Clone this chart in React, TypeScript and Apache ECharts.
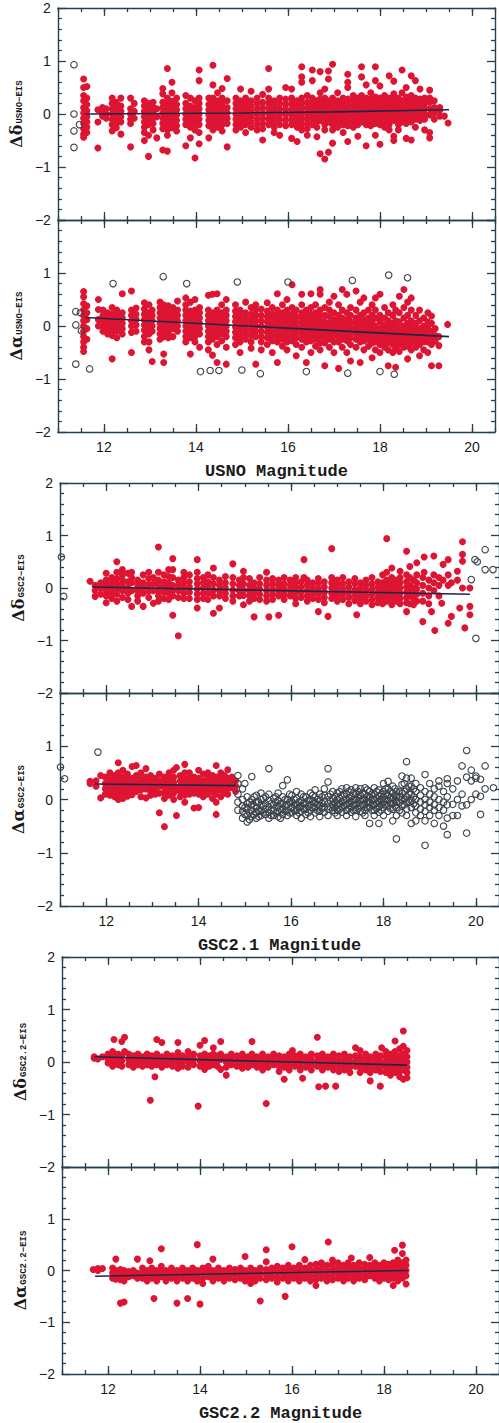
import React, { useEffect, useRef } from "react";
import * as echarts from "echarts";

// ---------- DATA (each column: [magnitude, residual1, residual2, ...]) ----------
const xMajorTicks = [12, 14, 16, 18, 20];

const usnoDecRed: number[][] = [
  [11.56, 0.66, 0.5, 0.35, 0.25, 0.12, 0.02, -0.08, -0.18, -0.28, -0.38, -0.44],
  [11.63, 0.52, 0.3, 0.18, 0.06, -0.05, -0.15, -0.25, -0.35],
  [11.87, 0.08, -0.15, -0.64],
  [11.97, 0.12, 0.04, -0.04],
  [12.05, 0.1, 0.0, -0.08],
  [12.18, 0.3, 0.2, 0.1, 0.0, -0.1, -0.2, -0.32],
  [12.27, 0.22, 0.12, 0.02, -0.08, -0.18, -0.26],
  [12.37, 0.3, 0.15, 0.05, -0.05, -0.15, -0.38],
  [12.58, 0.3, 0.1, 0.0, -0.1, -0.18, -0.62],
  [12.66, 0.2, 0.05, -0.08],
  [12.88, 0.25, 0.15, 0.05, -0.05, -0.15, -0.25, -0.35, -0.5],
  [12.97, 0.2, 0.1, 0.0, -0.1, -0.2, -0.4, -0.8],
  [13.07, 0.22, 0.12, 0.02, -0.08, -0.18, -0.3],
  [13.15, 0.1, -0.05, -0.45],
  [13.28, 0.48, 0.38, 0.22, 0.12, 0.02, -0.08, -0.18, -0.28, -0.68],
  [13.38, 0.86, 0.3, 0.2, 0.1, 0.0, -0.1, -0.2, -0.3, -0.4, -0.7],
  [13.48, 0.6, 0.4, 0.24, 0.14, 0.04, -0.06, -0.16, -0.26],
  [13.58, 0.3, 0.18, 0.08, -0.02, -0.12, -0.22, -0.32],
  [13.78, 0.35, 0.2, 0.1, 0.0, -0.1, -0.2, -0.6],
  [13.88, 0.3, 0.15, 0.05, -0.05, -0.15, -0.25, -0.45],
  [13.98, 0.25, 0.12, 0.02, -0.08, -0.18, -0.3, -0.83],
  [14.07, 0.83, 0.63, 0.3, 0.2, 0.1, 0.0, -0.1, -0.2, -0.35, -0.56],
  [14.28, 0.3, 0.18, 0.08, -0.02, -0.12, -0.22, -0.45],
  [14.37, 0.92, 0.55, 0.3, 0.2, 0.1, 0.0, -0.1, -0.2, -0.3],
  [14.47, 0.4, 0.25, 0.15, 0.05, -0.05, -0.15, -0.25],
  [14.57, 0.48, 0.3, 0.2, 0.1, 0.0, -0.1, -0.2, -0.32],
  [14.68, 0.67, 0.25, 0.12, 0.02, -0.08, -0.18, -0.62],
  [14.87, 0.3, 0.2, 0.1, 0.0, -0.1, -0.2, -0.3],
  [14.97, 0.47, 0.25, 0.15, 0.05, -0.05, -0.15, -0.25],
  [15.08, 0.3, 0.2, 0.1, 0.0, -0.1, -0.2, -0.35],
  [15.2, 0.43, 0.25, 0.15, 0.05, -0.05, -0.15, -0.25],
  [15.33, 0.3, 0.2, 0.1, 0.0, -0.1, -0.2, -0.3],
  [15.45, 0.37, 0.22, 0.12, 0.02, -0.08, -0.18, -0.28, -0.49],
  [15.58, 0.86, 0.47, 0.3, 0.2, 0.1, 0.0, -0.1, -0.2],
  [15.7, 0.25, 0.15, 0.05, -0.05, -0.15, -0.25, -0.35],
  [15.82, 0.3, 0.2, 0.1, 0.0, -0.1, -0.2, -0.4],
  [15.95, 0.5, 0.28, 0.18, 0.08, -0.02, -0.12, -0.22],
  [16.08, 0.47, 0.3, 0.2, 0.1, 0.0, -0.1, -0.2, -0.46],
  [16.2, 0.25, 0.15, 0.05, -0.05, -0.15, -0.25, -0.52],
  [16.3, 0.89, 0.7, 0.6, 0.3, 0.2, 0.1, 0.0, -0.1, -0.2, -0.3],
  [16.42, 0.35, 0.22, 0.12, 0.02, -0.08, -0.18, -0.28, -0.4],
  [16.53, 0.83, 0.63, 0.3, 0.2, 0.1, 0.0, -0.1, -0.2],
  [16.63, 0.25, 0.15, 0.05, -0.05, -0.15, -0.25, -0.43],
  [16.7, 0.8, 0.4, 0.28, 0.18, 0.08, -0.02, -0.12, -0.75],
  [16.8, 0.47, 0.3, 0.2, 0.1, 0.0, -0.1, -0.2, -0.3, -0.85],
  [16.88, 0.81, 0.66, 0.25, 0.15, 0.05, -0.05, -0.15, -0.72],
  [16.97, 0.94, 0.3, 0.2, 0.1, 0.0, -0.1, -0.2, -0.3, -0.55],
  [17.08, 0.4, 0.25, 0.15, 0.05, -0.05, -0.15, -0.25],
  [17.2, 0.3, 0.2, 0.1, 0.0, -0.1, -0.2, -0.35],
  [17.3, 0.75, 0.6, 0.5, 0.28, 0.18, 0.08, -0.02, -0.12, -0.22, -0.52],
  [17.42, 0.35, 0.25, 0.15, 0.05, -0.05, -0.15, -0.25],
  [17.52, 0.3, 0.2, 0.1, 0.0, -0.1, -0.2, -0.42],
  [17.6, 0.89, 0.7, 0.35, 0.25, 0.15, 0.05, -0.05, -0.15],
  [17.7, 0.55, 0.3, 0.2, 0.1, 0.0, -0.1, -0.2, -0.6],
  [17.8, 0.4, 0.28, 0.18, 0.08, -0.02, -0.12, -0.22],
  [17.9, 0.89, 0.63, 0.32, 0.22, 0.12, 0.02, -0.08, -0.18, -0.4],
  [18.0, 0.53, 0.3, 0.2, 0.1, 0.0, -0.1, -0.2, -0.57],
  [18.1, 0.35, 0.25, 0.15, 0.05, -0.05, -0.15, -0.25],
  [18.2, 0.72, 0.3, 0.2, 0.1, 0.0, -0.1, -0.2, -0.3],
  [18.3, 0.62, 0.38, 0.28, 0.18, 0.08, -0.02, -0.12, -0.42, -0.5],
  [18.4, 0.3, 0.2, 0.1, 0.0, -0.1, -0.2, -0.3],
  [18.48, 0.83, 0.4, 0.25, 0.15, 0.05, -0.05, -0.15],
  [18.57, 0.5, 0.32, 0.22, 0.12, 0.02, -0.08, -0.18, -0.46],
  [18.68, 0.72, 0.35, 0.25, 0.15, 0.05, -0.05, -0.15, -0.49],
  [18.77, 0.63, 0.3, 0.2, 0.1, 0.0, -0.1, -0.25],
  [18.87, 0.47, 0.28, 0.18, 0.08, -0.02, -0.12],
  [18.97, 0.3, 0.2, 0.1, 0.0, -0.1, -0.3],
  [19.08, 0.45, 0.3, 0.22, 0.1, -0.02, -0.35, -0.45],
  [19.18, 0.25, 0.12, 0.02, -0.1],
  [19.3, 0.12, 0.07, -0.04],
  [19.4, -0.04],
  [19.48, -0.17],
];
const usnoDecOpen: number[][] = [
  [11.35, 0.93, 0.0, -0.32, -0.63],
  [11.47, -0.2],
];
const usnoDecFit: number[][] = [[11.6, 0.0], [15.0, 0.02], [17.0, 0.04], [19.5, 0.08]];

const usnoRaRed: number[][] = [
  [11.56, 0.65, 0.55, 0.42, 0.3, 0.2, 0.1, 0.0, -0.1, -0.2, -0.3, -0.4, -0.48],
  [11.63, 0.38, 0.25, 0.12, -0.05, -0.25],
  [11.88, 0.5, 0.31, 0.12, 0.0],
  [11.98, 0.3, 0.2, 0.1, 0.0, -0.1],
  [12.08, 0.25, 0.15, 0.05, -0.05, -0.15],
  [12.18, 0.35, 0.22, 0.12, 0.02, -0.08, -0.18, -0.62],
  [12.28, 0.3, 0.2, 0.1, 0.0, -0.1, -0.22],
  [12.4, 0.61, 0.25, 0.15, 0.05, -0.05, -0.15],
  [12.6, 0.66, 0.3, 0.2, 0.1, 0.0, -0.12, -0.5],
  [12.7, 0.34, 0.22, 0.12, 0.02, -0.1],
  [12.88, 0.44, 0.32, 0.22, 0.12, 0.02, -0.08, -0.2, -0.3],
  [12.98, 0.4, 0.25, 0.15, 0.05, -0.05, -0.15, -0.3, -0.45],
  [13.05, 0.3, 0.2, 0.1, 0.0, -0.1, -0.67],
  [13.22, 0.45, 0.35, 0.25, 0.15, 0.05, -0.05, -0.15, -0.25],
  [13.3, 0.4, 0.3, 0.2, 0.1, 0.0, -0.1, -0.2, -0.53, -0.69],
  [13.4, 0.38, 0.28, 0.18, 0.08, -0.02, -0.12, -0.22],
  [13.5, 0.35, 0.25, 0.15, 0.05, -0.05, -0.2],
  [13.6, 0.47, 0.3, 0.2, 0.1, 0.0, -0.1],
  [13.78, 0.53, 0.4, 0.3, 0.2, 0.1, 0.0, -0.1, -0.2, -0.3],
  [13.88, 0.45, 0.28, 0.18, 0.08, -0.02, -0.12, -0.22, -0.53],
  [13.98, 0.5, 0.3, 0.2, 0.1, 0.0, -0.1, -0.2, -0.3],
  [14.08, 0.35, 0.25, 0.15, 0.05, -0.05, -0.15, -0.4],
  [14.27, 0.58, 0.3, 0.2, 0.1, 0.0, -0.1, -0.2, -0.3, -0.45],
  [14.36, 0.6, 0.25, 0.15, 0.05, -0.05, -0.15, -0.25, -0.55],
  [14.46, 0.61, 0.3, 0.2, 0.1, 0.0, -0.1, -0.2, -0.35, -0.69],
  [14.56, 0.4, 0.25, 0.15, 0.05, -0.05, -0.15, -0.28],
  [14.66, 0.5, 0.3, 0.2, 0.1, 0.0, -0.1, -0.2, -0.4, -0.72],
  [14.86, 0.4, 0.28, 0.18, 0.08, -0.02, -0.12, -0.22, -0.35],
  [14.96, 0.3, 0.2, 0.1, 0.0, -0.1, -0.2, -0.3, -0.5],
  [15.08, 0.45, 0.25, 0.15, 0.05, -0.05, -0.15, -0.25],
  [15.2, 0.35, 0.22, 0.12, 0.02, -0.08, -0.18, -0.3, -0.42],
  [15.3, 0.4, 0.3, 0.2, 0.1, 0.0, -0.1, -0.2, -0.72],
  [15.42, 0.32, 0.2, 0.1, 0.0, -0.1, -0.2, -0.3, -0.45],
  [15.55, 0.44, 0.28, 0.18, 0.08, -0.02, -0.12, -0.22, -0.35],
  [15.66, 0.35, 0.22, 0.12, 0.02, -0.08, -0.18, -0.28, -0.5],
  [15.77, 0.61, 0.3, 0.2, 0.1, 0.0, -0.1, -0.2, -0.3, -0.69],
  [15.88, 0.4, 0.25, 0.15, 0.05, -0.05, -0.15, -0.25, -0.38],
  [15.98, 0.5, 0.3, 0.2, 0.1, 0.0, -0.1, -0.2, -0.3, -0.45],
  [16.09, 0.78, 0.35, 0.22, 0.12, 0.02, -0.08, -0.18, -0.28],
  [16.18, 0.3, 0.18, 0.08, -0.02, -0.12, -0.22, -0.35, -0.56],
  [16.3, 0.6, 0.4, 0.25, 0.15, 0.05, -0.05, -0.15, -0.25, -0.4],
  [16.4, 0.3, 0.2, 0.1, 0.0, -0.1, -0.2, -0.3, -0.69],
  [16.5, 0.61, 0.35, 0.22, 0.12, 0.02, -0.08, -0.18, -0.28, -0.5],
  [16.6, 0.4, 0.25, 0.15, 0.05, -0.05, -0.15, -0.25, -0.38],
  [16.7, 0.69, 0.6, 0.3, 0.2, 0.1, 0.0, -0.1, -0.2, -0.32, -0.45],
  [16.8, 0.35, 0.2, 0.08, -0.02, -0.12, -0.22, -0.32, -0.75],
  [16.9, 0.45, 0.3, 0.18, 0.05, -0.05, -0.15, -0.25, -0.4],
  [17.0, 0.56, 0.25, 0.12, 0.02, -0.08, -0.18, -0.3, -0.5],
  [17.1, 0.4, 0.2, 0.1, 0.0, -0.1, -0.2, -0.3, -0.8],
  [17.18, 0.69, 0.3, 0.15, 0.05, -0.05, -0.15, -0.25, -0.4],
  [17.28, 0.6, 0.25, 0.12, 0.02, -0.08, -0.18, -0.28, -0.5],
  [17.36, 0.35, 0.2, 0.08, -0.02, -0.12, -0.22, -0.35, -0.66],
  [17.48, 0.66, 0.3, 0.15, 0.05, -0.05, -0.15, -0.25, -0.4],
  [17.57, 0.45, 0.2, 0.1, 0.0, -0.1, -0.2, -0.3, -0.69],
  [17.65, 0.53, 0.25, 0.12, 0.02, -0.08, -0.18, -0.28, -0.45],
  [17.75, 0.3, 0.15, 0.05, -0.05, -0.15, -0.25, -0.38],
  [17.83, 0.4, 0.2, 0.08, -0.02, -0.12, -0.22, -0.32, -0.6],
  [17.9, 0.53, 0.3, 0.15, 0.0, -0.1, -0.2, -0.3, -0.45],
  [18.0, 0.6, 0.2, 0.08, -0.05, -0.15, -0.25, -0.35, -0.5],
  [18.1, 0.35, 0.15, 0.02, -0.08, -0.18, -0.28, -0.4],
  [18.18, 0.25, 0.1, 0.0, -0.12, -0.22, -0.32, -0.45, -0.75],
  [18.28, 0.4, 0.2, 0.05, -0.05, -0.15, -0.25, -0.35, -0.5],
  [18.34, 0.3, 0.1, -0.02, -0.12, -0.22, -0.32, -0.42, -0.78],
  [18.42, 0.56, 0.25, 0.08, -0.05, -0.15, -0.25, -0.35, -0.48],
  [18.52, 0.69, 0.35, 0.15, 0.0, -0.1, -0.2, -0.3, -0.4],
  [18.6, 0.45, 0.2, 0.05, -0.05, -0.15, -0.25, -0.38, -0.62],
  [18.68, 0.53, 0.3, 0.1, -0.02, -0.12, -0.22, -0.32, -0.45],
  [18.78, 0.2, 0.05, -0.08, -0.18, -0.28, -0.4],
  [18.86, 0.3, 0.1, -0.05, -0.15, -0.25, -0.35, -0.56],
  [18.95, 0.15, 0.0, -0.1, -0.2, -0.3, -0.45],
  [19.04, 0.25, 0.08, -0.05, -0.18, -0.3, -0.5],
  [19.12, 0.19, 0.05, -0.1, -0.22, -0.35, -0.75],
  [19.2, -0.05, -0.18, -0.28],
  [19.28, -0.2, -0.37, -0.75],
  [19.47, 0.03],
];
const usnoRaOpen: number[][] = [
  [11.39, 0.27, 0.02, -0.72],
  [11.49, 0.25],
  [11.51, -0.09],
  [11.69, -0.81],
  [12.2, 0.8],
  [13.29, 0.93],
  [13.8, 0.8],
  [14.1, -0.86],
  [14.31, -0.84],
  [14.5, -0.84],
  [14.9, 0.83],
  [15.0, -0.83],
  [15.4, -0.9],
  [16.0, 0.83],
  [16.4, -0.86],
  [17.3, -0.89],
  [17.4, 0.86],
  [18.0, -0.86],
  [18.19, 0.96],
  [18.31, -0.91],
  [18.6, 0.91],
];
const usnoRaFit: number[][] = [[11.6, 0.16], [19.5, -0.2]];

const gsc21DecRed: number[][] = [
  [11.65, 0.13],
  [11.76, 0.05, -0.05, -0.16],
  [11.88, 0.1, 0.0, -0.12],
  [12.0, 0.28, 0.15, 0.05, -0.05, -0.15, -0.28],
  [12.12, 0.2, 0.1, 0.0, -0.1, -0.2],
  [12.23, 0.5, 0.3, 0.18, 0.08, -0.02, -0.12, -0.25],
  [12.35, 0.35, 0.25, 0.15, 0.05, -0.05, -0.18],
  [12.47, 0.28, 0.12, 0.0, -0.1, -0.22],
  [12.55, 0.3, 0.2, 0.1, -0.05, -0.35],
  [12.68, 0.15, 0.05, -0.05, -0.15, -0.25],
  [12.8, 0.25, 0.1, 0.0, -0.1, -0.35],
  [12.92, 0.3, 0.18, 0.06, -0.06, -0.18],
  [13.02, 0.2, 0.08, -0.05, -0.29],
  [13.13, 0.78, 0.3, 0.15, 0.05, -0.05, -0.15, -0.25],
  [13.25, 0.25, 0.12, 0.02, -0.08, -0.2],
  [13.35, 0.35, 0.22, 0.1, 0.0, -0.1, -0.22],
  [13.44, 0.56, 0.35, 0.2, 0.05, -0.05, -0.15, -0.52],
  [13.56, 0.15, 0.05, -0.05, -0.18, -0.91],
  [13.68, 0.3, 0.2, 0.1, 0.0, -0.1, -0.2],
  [13.8, 0.25, 0.12, 0.02, -0.08, -0.2],
  [13.97, 0.54, 0.3, 0.18, 0.08, -0.02, -0.12, -0.22, -0.38],
  [14.1, 0.2, 0.1, 0.0, -0.1, -0.2],
  [14.2, 0.25, 0.12, 0.02, -0.1, -0.22],
  [14.32, 0.38, 0.2, 0.08, -0.04, -0.15, -0.48],
  [14.45, 0.15, 0.05, -0.05, -0.15, -0.38],
  [14.58, 0.22, 0.1, 0.0, -0.1, -0.2],
  [14.74, 0.46, 0.2, 0.08, -0.04, -0.15, -0.25],
  [14.88, 0.15, 0.05, -0.05, -0.15],
  [14.97, 0.32, 0.2, 0.08, -0.04, -0.14, -0.32],
  [15.1, 0.18, 0.05, -0.05, -0.15, -0.25],
  [15.2, 0.1, 0.0, -0.1, -0.2, -0.55],
  [15.32, 0.2, 0.08, -0.02, -0.12, -0.22],
  [15.47, 0.3, 0.15, 0.05, -0.05, -0.15, -0.25],
  [15.52, -0.55],
  [15.6, 0.18, 0.08, -0.02, -0.12, -0.22],
  [15.73, 0.15, 0.05, -0.05, -0.15, -0.52],
  [15.85, 0.2, 0.08, -0.02, -0.12, -0.22],
  [15.98, 0.15, 0.05, -0.05, -0.15],
  [16.1, 0.2, 0.1, 0.0, -0.1, -0.2, -0.3],
  [16.22, 0.12, 0.02, -0.08, -0.18],
  [16.28, 0.54, 0.2],
  [16.35, 0.15, 0.05, -0.05, -0.15, -0.25],
  [16.47, 0.1, 0.0, -0.1, -0.2],
  [16.59, 0.18, 0.08, -0.02, -0.12, -0.22, -0.45],
  [16.72, 0.12, 0.02, -0.08, -0.18, -0.28],
  [16.8, -0.54],
  [16.88, 0.75, 0.2, 0.1, 0.0, -0.1, -0.2],
  [17.0, 0.15, 0.05, -0.05, -0.15, -0.25],
  [17.12, 0.2, 0.08, -0.02, -0.12, -0.22],
  [17.25, 0.12, 0.02, -0.08, -0.18, -0.3],
  [17.38, 0.18, 0.08, -0.04, -0.14, -0.24],
  [17.42, -0.51],
  [17.5, 0.1, 0.0, -0.1, -0.2, -0.3],
  [17.62, 0.15, 0.05, -0.05, -0.15, -0.25],
  [17.75, 0.2, 0.08, -0.02, -0.12, -0.22, -0.32],
  [17.88, 0.12, 0.02, -0.08, -0.18, -0.28],
  [17.98, 0.25, 0.1, 0.0, -0.1, -0.2, -0.3],
  [18.07, 0.94, 0.3, 0.15, 0.05, -0.05, -0.15, -0.25],
  [18.18, 0.38, 0.2, 0.08, -0.02, -0.12, -0.22, -0.32],
  [18.28, 0.15, 0.05, -0.05, -0.15, -0.25],
  [18.36, 0.32, 0.2, 0.1, 0.0, -0.1, -0.2, -0.3],
  [18.5, 0.7, 0.25, 0.12, 0.02, -0.08, -0.18, -0.28, -0.45],
  [18.57, 0.41, 0.2, 0.05, -0.05, -0.15, -0.3],
  [18.65, 0.15, 0.0, -0.1, -0.2, -0.32],
  [18.72, 0.48, 0.25, 0.1, -0.02, -0.12, -0.25],
  [18.85, 0.2, 0.05, -0.1, -0.25, -0.64],
  [18.88, 0.59, 0.3],
  [18.98, 0.15, 0.0, -0.15, -0.3],
  [19.04, -0.45],
  [19.09, 0.61, 0.25, 0.1, -0.05],
  [19.11, -0.81],
  [19.2, 0.2, 0.05, -0.15],
  [19.26, -0.29],
  [19.29, 0.45, 0.15],
  [19.4, 0.54, 0.25, 0.05, -0.67],
  [19.47, -0.54, 0.1],
  [19.6, 0.32, 0.15],
  [19.65, -0.38],
  [19.71, 0.88, 0.64, 0.51, 0.0],
  [19.76, -0.76],
  [19.87, 0.0, -0.35, -0.51],
];
const gsc21DecOpen: number[][] = [
  [11.03, 0.59],
  [11.08, -0.16],
  [19.9, 0.16],
  [19.98, 0.54],
  [20.0, -0.96],
  [20.03, 0.5],
  [20.2, 0.73, 0.35],
  [20.37, 0.35],
];
const gsc21DecFit: number[][] = [[11.7, 0.02], [19.87, -0.12]];

const gsc21RaRed: number[][] = [
  [11.65, 0.34, 0.3],
  [11.78, 0.35, 0.25],
  [11.88, 0.45, 0.03],
  [11.98, 0.42, 0.3, 0.2, 0.1],
  [12.08, 0.5, 0.38, 0.28, 0.18, 0.08],
  [12.18, 0.45, 0.35, 0.25, 0.15, 0.05],
  [12.26, 0.69, 0.5, 0.4, 0.3, 0.2, 0.1, 0.0],
  [12.36, 0.55, 0.42, 0.32, 0.22, 0.12, 0.02],
  [12.46, 0.48, 0.36, 0.26, 0.16, 0.06],
  [12.56, 0.62, 0.4, 0.3, 0.2, 0.09],
  [12.65, 0.64, 0.45, 0.35, 0.25, 0.15],
  [12.75, 0.5, 0.38, 0.28, 0.18, 0.05],
  [12.86, 0.58, 0.42, 0.32, 0.2, 0.03],
  [12.96, 0.45, 0.35, 0.25, 0.15, 0.08],
  [13.06, 0.4, 0.3, 0.2, 0.1],
  [13.15, 0.48, 0.35, 0.25, 0.12, -0.25],
  [13.26, 0.42, 0.32, 0.22, 0.12, 0.02, -0.51],
  [13.36, 0.5, 0.38, 0.28, 0.18, 0.08],
  [13.46, 0.55, 0.42, 0.32, 0.22, 0.12, 0.0],
  [13.52, 0.6, 0.2, -0.3],
  [13.6, 0.45, 0.35, 0.25, 0.15, 0.05],
  [13.7, 0.66, 0.5, 0.38, 0.28, 0.18, 0.08, -0.05],
  [13.8, 0.5, 0.4, 0.3, 0.2, 0.1],
  [13.9, 0.42, 0.32, 0.22, 0.12, -0.16],
  [14.0, 0.55, 0.4, 0.3, 0.2, 0.1, -0.15],
  [14.1, 0.48, 0.35, 0.25, 0.15, 0.05],
  [14.2, 0.5, 0.4, 0.3, 0.2, 0.1],
  [14.3, 0.45, 0.35, 0.25, 0.15, 0.02],
  [14.38, 0.64, 0.42, 0.3, 0.2, 0.1, -0.05, -0.28],
  [14.48, 0.5, 0.38, 0.28, 0.18, 0.05],
  [14.56, 0.45, 0.35, 0.25, 0.12],
  [14.63, 0.56, 0.4, 0.3, 0.2, 0.1],
  [14.72, 0.42, 0.32, 0.22],
  [14.8, 0.35, 0.25, 0.15],
];
const gsc21RaOpen: number[][] = [
  [11.01, 0.61],
  [11.1, 0.39],
  [11.82, 0.89],
  [14.85, 0.45, 0.3, 0.1, -0.05, -0.2],
  [14.95, 0.2, 0.0, -0.12, -0.22, -0.35],
  [15.0, 0.3, -0.15, -0.28],
  [15.05, 0.05, -0.08, -0.18, -0.3, -0.42],
  [15.1, -0.05, -0.25, -0.38],
  [15.15, 0.43, 0.0, -0.1, -0.2, -0.32],
  [15.2, 0.05, -0.12, -0.28],
  [15.25, 0.08, -0.05, -0.15, -0.25, -0.35],
  [15.3, -0.05, -0.22, -0.32],
  [15.35, 0.12, 0.0, -0.1, -0.2, -0.3],
  [15.4, 0.02, -0.12, -0.25],
  [15.45, 0.05, -0.08, -0.18, -0.28],
  [15.52, 0.58, 0.1, -0.02, -0.14, -0.24, -0.35],
  [15.57, -0.08, -0.2, -0.3],
  [15.62, 0.02, -0.1, -0.2, -0.3],
  [15.67, 0.05, -0.05, -0.25],
  [15.72, 0.12, -0.02, -0.12, -0.22, -0.32],
  [15.77, -0.08, -0.18, -0.35],
  [15.82, 0.26, 0.05, -0.08, -0.18, -0.28],
  [15.87, 0.0, -0.12, -0.22],
  [15.92, 0.37, 0.0, -0.1, -0.2, -0.3],
  [15.97, 0.1, -0.05, -0.25],
  [16.02, 0.08, -0.05, -0.15, -0.25],
  [16.07, 0.0, -0.1, -0.2],
  [16.12, 0.15, 0.02, -0.1, -0.2, -0.3],
  [16.17, -0.05, -0.15, -0.25],
  [16.22, 0.1, -0.02, -0.12, -0.22, -0.35],
  [16.27, 0.05, -0.07, -0.17],
  [16.32, 0.05, -0.08, -0.18, -0.28],
  [16.37, -0.02, -0.13, -0.25],
  [16.42, 0.12, 0.0, -0.1, -0.2, -0.32],
  [16.47, 0.08, -0.03, -0.15],
  [16.52, 0.18, 0.05, -0.05, -0.15, -0.25],
  [16.57, 0.0, -0.1, -0.2],
  [16.62, 0.1, -0.02, -0.12, -0.22, -0.32],
  [16.67, 0.05, -0.07, -0.17],
  [16.72, 0.2, 0.08, -0.04, -0.14, -0.24],
  [16.8, 0.58, 0.33, 0.05, -0.08, -0.18, -0.3],
  [16.85, 0.1, -0.02, -0.14],
  [16.9, 0.15, 0.02, -0.1, -0.2],
  [16.95, 0.05, -0.05, -0.15, -0.25],
  [17.0, 0.12, 0.0, -0.1, -0.2, -0.3],
  [17.05, 0.15, 0.02, -0.08, -0.18],
  [17.1, 0.2, 0.08, -0.04, -0.14, -0.24],
  [17.15, 0.1, -0.02, -0.12],
  [17.2, 0.22, 0.1, 0.0, -0.1, -0.2, -0.3],
  [17.25, 0.15, 0.03, -0.07, -0.17],
  [17.3, 0.18, 0.06, -0.04, -0.14, -0.24],
  [17.35, 0.12, 0.0, -0.1, -0.2],
  [17.4, 0.22, 0.1, 0.0, -0.1, -0.2, -0.32],
  [17.45, 0.15, 0.03, -0.07, -0.17],
  [17.5, 0.2, 0.08, -0.02, -0.12, -0.22],
  [17.55, 0.12, 0.0, -0.1, -0.25],
  [17.6, 0.22, 0.1, 0.0, -0.1, -0.2, -0.3],
  [17.65, 0.18, 0.05, -0.05, -0.15],
  [17.7, 0.15, 0.05, -0.05, -0.15, -0.45],
  [17.75, 0.1, 0.0, -0.1, -0.2],
  [17.8, 0.22, 0.1, 0.0, -0.1, -0.2, -0.3],
  [17.85, 0.15, 0.03, -0.07, -0.17],
  [17.9, 0.18, 0.06, -0.04, -0.14, -0.24, -0.45],
  [17.95, 0.1, 0.0, -0.1, -0.2],
  [18.0, 0.3, 0.15, 0.05, -0.05, -0.15, -0.3],
  [18.05, 0.2, 0.1, 0.0, -0.1],
  [18.1, 0.34, 0.2, 0.08, -0.02, -0.12, -0.22],
  [18.15, 0.15, 0.03, -0.07, -0.17],
  [18.2, 0.25, 0.12, 0.02, -0.08, -0.18, -0.4],
  [18.25, 0.2, 0.08, -0.02, -0.12],
  [18.28, 0.15, 0.05, -0.05, -0.15, -0.3, -0.74],
  [18.35, 0.15, 0.05, -0.05, -0.2],
  [18.4, 0.44, 0.28, 0.12, 0.0, -0.12, -0.25],
  [18.45, 0.3, 0.15, 0.0, -0.1],
  [18.5, 0.71, 0.4, 0.2, 0.05, -0.05, -0.18, -0.3],
  [18.55, 0.25, 0.1, -0.05],
  [18.6, 0.4, 0.25, 0.1, -0.02, -0.15, -0.45],
  [18.65, 0.2, 0.05, -0.08],
  [18.7, 0.3, 0.15, 0.0, -0.12, -0.25, -0.4],
  [18.8, 0.22, 0.08, -0.05, -0.18, -0.3],
  [18.9, 0.47, 0.15, 0.0, -0.1, -0.22, -0.4, -0.86],
  [19.0, 0.3, 0.1, -0.05, -0.15, -0.3],
  [19.1, 0.2, 0.05, -0.1, -0.2, -0.45],
  [19.2, 0.35, 0.25, 0.0, -0.15, -0.3],
  [19.3, 0.15, -0.05, -0.2, -0.5],
  [19.38, 0.39, 0.3, 0.05, -0.1, -0.35, -0.66],
  [19.5, 0.2, -0.09, -0.3],
  [19.6, 0.35, 0.0, -0.3],
  [19.7, 0.63, 0.1, -0.12],
  [19.8, 0.92, 0.42, -0.1, -0.63],
  [19.9, 0.55, 0.35, 0.0],
  [20.0, 0.44, 0.4, 0.1],
  [20.1, 0.38, 0.06, -0.28],
  [20.2, 0.63, 0.2],
  [20.38, 0.22],
];
const gsc21RaFit: number[][] = [[11.75, 0.29], [14.8, 0.26]];

const gsc22DecRed: number[][] = [
  [11.7, 0.1, 0.07],
  [11.78, 0.06],
  [11.88, 0.1],
  [12.0, 0.15, 0.05, -0.02],
  [12.1, 0.2, 0.1, 0.0, -0.08],
  [12.13, 0.43],
  [12.22, 0.15, 0.05, -0.05],
  [12.3, 0.39, 0.12, 0.02, -0.08],
  [12.36, 0.47, 0.2],
  [12.45, 0.15, 0.05, -0.05],
  [12.55, 0.12, 0.02, -0.1],
  [12.65, 0.15, 0.05, -0.05],
  [12.75, 0.1, 0.0, -0.08],
  [12.85, 0.15, 0.05, -0.05],
  [12.92, -0.73],
  [12.95, 0.12, 0.02, -0.08],
  [13.02, -0.28],
  [13.06, 0.43, 0.15, 0.05, -0.05],
  [13.17, 0.37, 0.1, 0.0, -0.1],
  [13.28, 0.15, 0.05, -0.05],
  [13.4, 0.12, 0.02, -0.08],
  [13.52, 0.37, 0.18, 0.08, -0.02, -0.12],
  [13.62, 0.12, 0.02, -0.08],
  [13.74, 0.2, 0.1, 0.0, -0.1],
  [13.86, 0.15, 0.05, -0.05],
  [13.96, -0.84],
  [14.0, 0.32, 0.12, 0.02, -0.08],
  [14.1, 0.41, 0.15, 0.05, -0.05, -0.14],
  [14.2, 0.12, 0.02, -0.08],
  [14.29, 0.27, 0.15, 0.05, -0.05],
  [14.38, 0.12, 0.02, -0.08],
  [14.45, 0.39, 0.15, 0.05, -0.14],
  [14.57, 0.1, 0.0, -0.1, -0.25],
  [14.68, 0.15, 0.05, -0.05],
  [14.8, 0.12, 0.02, -0.08],
  [14.92, 0.15, 0.05, -0.05, -0.12],
  [15.04, 0.1, 0.0, -0.1],
  [15.13, 0.39, 0.15, 0.05, -0.05],
  [15.24, 0.1, 0.0, -0.1],
  [15.36, 0.15, 0.05, -0.05, -0.15],
  [15.44, -0.79],
  [15.48, 0.1, 0.0, -0.1],
  [15.6, 0.15, 0.05, -0.05],
  [15.72, 0.12, 0.02, -0.08, -0.18],
  [15.83, 0.1, 0.0, -0.1, -0.33],
  [15.94, 0.15, 0.05, -0.05, -0.15],
  [16.01, 0.22],
  [16.06, 0.12, 0.02, -0.08],
  [16.18, 0.15, 0.05, -0.05, -0.15],
  [16.23, -0.31],
  [16.3, 0.1, 0.0, -0.1],
  [16.42, 0.15, 0.05, -0.05, -0.15],
  [16.55, 0.47, 0.12, 0.02, -0.08],
  [16.58, -0.47],
  [16.66, 0.15, 0.05, -0.05, -0.15],
  [16.73, -0.46],
  [16.78, 0.1, 0.0, -0.1],
  [16.9, 0.15, 0.05, -0.05, -0.15],
  [16.95, -0.46],
  [17.02, 0.12, 0.02, -0.08, -0.18],
  [17.14, 0.15, 0.05, -0.05, -0.15],
  [17.26, 0.1, 0.0, -0.1, -0.2],
  [17.38, 0.27, 0.12, 0.02, -0.08],
  [17.48, 0.22, 0.1, 0.0, -0.1, -0.2],
  [17.6, 0.15, 0.05, -0.05, -0.15],
  [17.7, 0.1, 0.0, -0.1, -0.2, -0.36],
  [17.82, 0.15, 0.05, -0.05, -0.15],
  [17.92, 0.12, 0.02, -0.08, -0.18, -0.46],
  [17.95, 0.27],
  [18.04, 0.2, 0.1, 0.0, -0.1, -0.2],
  [18.14, 0.15, 0.05, -0.05, -0.15, -0.25],
  [18.24, 0.4, 0.2, 0.1, 0.0, -0.1, -0.2],
  [18.34, 0.25, 0.12, 0.02, -0.08, -0.18, -0.28],
  [18.42, 0.59, 0.3, 0.15, 0.05, -0.05, -0.15, -0.33],
  [18.5, 0.22, 0.1, 0.0, -0.1, -0.2, -0.3],
];
const gsc22DecFit: number[][] = [[11.7, 0.1], [18.5, -0.06]];

const gsc22RaRed: number[][] = [
  [11.68, 0.02],
  [11.78, 0.0, 0.04],
  [11.88, 0.04],
  [12.1, 0.05, -0.05, -0.15],
  [12.17, 0.22, 0.0, -0.1, -0.17],
  [12.27, 0.02, -0.08, -0.18, -0.63],
  [12.35, 0.0, -0.1, -0.2, -0.61],
  [12.45, -0.02, -0.12],
  [12.55, 0.0, -0.1],
  [12.64, 0.22, -0.05, -0.15],
  [12.75, 0.05, -0.05, -0.15],
  [12.85, 0.0, -0.1, -0.2],
  [12.91, 0.19],
  [12.95, 0.05, -0.05, -0.15],
  [13.0, -0.54],
  [13.06, 0.0, -0.1, -0.2],
  [13.16, 0.42, 0.08, -0.02, -0.12],
  [13.26, 0.0, -0.1, -0.2],
  [13.38, 0.05, -0.05, -0.15],
  [13.5, 0.0, -0.1, -0.2, -0.63],
  [13.62, 0.05, -0.05, -0.15],
  [13.73, 0.0, -0.1, -0.2, -0.54],
  [13.84, 0.05, -0.05, -0.15],
  [13.94, 0.5, 0.0, -0.1, -0.2],
  [14.0, -0.65],
  [14.06, 0.05, -0.05, -0.15, -0.25],
  [14.18, 0.08, -0.02, -0.12],
  [14.28, 0.22, 0.0, -0.1, -0.2],
  [14.4, 0.05, -0.05, -0.15],
  [14.52, 0.0, -0.1, -0.2],
  [14.64, 0.05, -0.05, -0.15],
  [14.76, 0.02, -0.08, -0.18],
  [14.88, 0.05, -0.05, -0.15],
  [14.98, 0.27, 0.0, -0.1, -0.2],
  [15.1, 0.05, -0.05, -0.15, -0.25],
  [15.2, 0.0, -0.1, -0.2],
  [15.31, 0.05, -0.05, -0.15, -0.59],
  [15.44, 0.4, 0.17, 0.02, -0.08, -0.18],
  [15.56, 0.05, -0.05, -0.15],
  [15.68, 0.08, -0.02, -0.12, -0.22],
  [15.8, 0.05, -0.05, -0.15],
  [15.85, -0.5],
  [15.92, 0.1, 0.0, -0.1, -0.2],
  [16.0, 0.46],
  [16.04, 0.05, -0.05, -0.15],
  [16.16, 0.1, 0.0, -0.1, -0.2],
  [16.28, 0.21, 0.05, -0.05, -0.15],
  [16.4, 0.1, 0.0, -0.1, -0.2],
  [16.52, 0.12, 0.02, -0.08, -0.18, -0.29],
  [16.64, 0.15, 0.05, -0.05, -0.15],
  [16.76, 0.1, 0.0, -0.1, -0.2],
  [16.79, 0.55],
  [16.88, 0.2, 0.12, 0.02, -0.08, -0.18],
  [17.0, 0.15, 0.05, -0.05, -0.15],
  [17.12, 0.1, 0.0, -0.1, -0.2],
  [17.22, 0.15, 0.05, -0.05, -0.15],
  [17.29, 0.24],
  [17.34, 0.1, 0.0, -0.1, -0.2],
  [17.46, 0.15, 0.05, -0.05, -0.15],
  [17.58, 0.12, 0.02, -0.08, -0.18],
  [17.69, 0.25, 0.1, 0.0, -0.1],
  [17.8, 0.15, 0.05, -0.05, -0.15],
  [17.9, 0.1, 0.0, -0.1, -0.2],
  [18.0, 0.15, 0.05, -0.05, -0.15],
  [18.1, 0.12, 0.02, -0.08, -0.18],
  [18.2, 0.15, 0.05, -0.05, -0.15, -0.29],
  [18.23, 0.39],
  [18.3, 0.2, 0.1, 0.0, -0.1, -0.2],
  [18.4, 0.49, 0.33, 0.15, 0.05, -0.05, -0.15],
  [18.48, 0.2, 0.1, 0.0, -0.1, -0.26],
];
const gsc22RaFit: number[][] = [[11.72, -0.11], [18.52, 0.0]];

// ---------- STYLE / LAYOUT ----------
const RED = "#de1433";
const OPEN = "#3e444b";
const FIT = "#1e2845";
const AXIS = "#24404f";
const TEXT = "#1a1a1a";

const flatten = (cols: number[][]) =>
  cols.flatMap((c) => c.slice(1).map((y) => [c[0], y]));

type Panel = {
  left: number; top: number; width: number; height: number;
  sym: string; sub: string;
  red: number[][]; open: number[][]; fit: number[][];
  xName: string | null; hideTop: boolean;
};

const panels: Panel[] = [
  { left: 57, top: 8, width: 438, height: 212, sym: "Δδ", sub: "USNO−EIS", red: usnoDecRed, open: usnoDecOpen, fit: usnoDecFit, xName: null, hideTop: false },
  { left: 57, top: 220, width: 438, height: 212, sym: "Δα", sub: "USNO−EIS", red: usnoRaRed, open: usnoRaOpen, fit: usnoRaFit, xName: "USNO Magnitude", hideTop: true },
  { left: 60, top: 483, width: 439, height: 210, sym: "Δδ", sub: "GSC2−EIS", red: gsc21DecRed, open: gsc21DecOpen, fit: gsc21DecFit, xName: null, hideTop: false },
  { left: 60, top: 693, width: 439, height: 213, sym: "Δα", sub: "GSC2−EIS", red: gsc21RaRed, open: gsc21RaOpen, fit: gsc21RaFit, xName: "GSC2.1 Magnitude", hideTop: true },
  { left: 62, top: 957, width: 437, height: 210, sym: "Δδ", sub: "GSC2.2−EIS", red: gsc22DecRed, open: [], fit: gsc22DecFit, xName: null, hideTop: false },
  { left: 62, top: 1167, width: 437, height: 212, sym: "Δα", sub: "GSC2.2−EIS", red: gsc22RaRed, open: [], fit: gsc22RaFit, xName: "GSC2.2 Magnitude", hideTop: true },
];

function buildOption() {
  const grid: any[] = [];
  const xAxis: any[] = [];
  const yAxis: any[] = [];
  const series: any[] = [];
  const tickLine = { color: AXIS, width: 1.3 };
  const fmtY = (hideTop: boolean) => (v: number) =>
    hideTop && v === 2 ? "" : v < 0 ? "\u2212" + Math.abs(v) : String(v);

  panels.forEach((p, i) => {
    grid.push({ left: p.left, top: p.top, width: p.width, height: p.height, show: false });
    const baseX = xAxis.length;
    (["bottom", "top"] as const).forEach((pos) => {
      const isLabelled = pos === "bottom" && !!p.xName;
      xAxis.push({
        type: "value", gridIndex: i, position: pos, min: 11, max: 20.5,
        axisLine: { show: true, onZero: false, lineStyle: { color: AXIS, width: 1.4 } },
        axisTick: { show: true, inside: true, length: 8, customValues: xMajorTicks, lineStyle: tickLine },
        axisLabel: isLabelled
          ? { show: true, customValues: xMajorTicks, margin: 8, color: TEXT, fontFamily: "Liberation Sans", fontSize: 14 }
          : { show: false },
        splitLine: { show: false },
        name: isLabelled ? p.xName : "",
        nameLocation: "middle", nameGap: 31,
        nameTextStyle: { fontFamily: "Liberation Mono", fontWeight: "bold", fontSize: 17, color: TEXT },
      });
      xAxis.push({
        type: "value", gridIndex: i, position: pos, min: 11, max: 20.5, interval: 0.5,
        axisLine: { show: false, onZero: false },
        axisTick: { show: true, inside: true, length: 4, lineStyle: tickLine },
        axisLabel: { show: false },
        splitLine: { show: false },
      });
    });
    const baseY = yAxis.length;
    (["left", "right"] as const).forEach((pos) => {
      yAxis.push({
        type: "value", gridIndex: i, position: pos, min: -2, max: 2, interval: 1,
        axisLine: { show: true, onZero: false, lineStyle: { color: AXIS, width: 1.4 } },
        axisTick: { show: true, inside: true, length: 8, lineStyle: tickLine },
        minorTick: { show: true, splitNumber: 5, length: 4, lineStyle: tickLine },
        axisLabel: pos === "left"
          ? { show: true, margin: 7, color: TEXT, fontFamily: "Liberation Sans", fontSize: 14, formatter: fmtY(p.hideTop) }
          : { show: false },
        splitLine: { show: false },
        minorSplitLine: { show: false },
        name: pos === "left" ? `{a|${p.sym}}{s|${p.sub}}` : "",
        nameLocation: "middle", nameRotate: 90, nameGap: 33,
        nameTextStyle: {
          rich: {
            a: { fontFamily: "DejaVu Serif", fontWeight: "bold", fontSize: 16, color: TEXT },
            s: { fontFamily: "Liberation Mono", fontWeight: "bold", fontSize: 9, color: TEXT, verticalAlign: "bottom", padding: [6, 0, 0, 1] },
          },
        },
      });
    });
    series.push({
      type: "scatter", xAxisIndex: baseX, yAxisIndex: baseY, data: flatten(p.red),
      symbol: "circle", symbolSize: 7, itemStyle: { color: RED, opacity: 1 }, z: 3, silent: true,
    });
    if (p.open.length) {
      series.push({
        type: "scatter", xAxisIndex: baseX, yAxisIndex: baseY, data: flatten(p.open),
        symbol: "circle", symbolSize: 6.5,
        itemStyle: { color: "rgba(255,255,255,0)", borderColor: OPEN, borderWidth: 1.1, opacity: 1 },
        z: 4, silent: true,
      });
    }
    series.push({
      type: "line", xAxisIndex: baseX, yAxisIndex: baseY, data: p.fit,
      symbol: "none", lineStyle: { color: FIT, width: 1.6 }, z: 5, silent: true,
    });
  });

  return { animation: false, backgroundColor: "#ffffff", grid, xAxis, yAxis, series };
}

export default function App() {
  const ref = useRef<HTMLDivElement>(null);
  useEffect(() => {
    document.body.style.margin = "0";
    if (!ref.current) return;
    const chart = echarts.init(ref.current, undefined, { renderer: "svg" });
    chart.setOption(buildOption() as any);
    return () => chart.dispose();
  }, []);
  return <div ref={ref} style={{ width: 499, height: 1423, background: "#fff" }} />;
}
